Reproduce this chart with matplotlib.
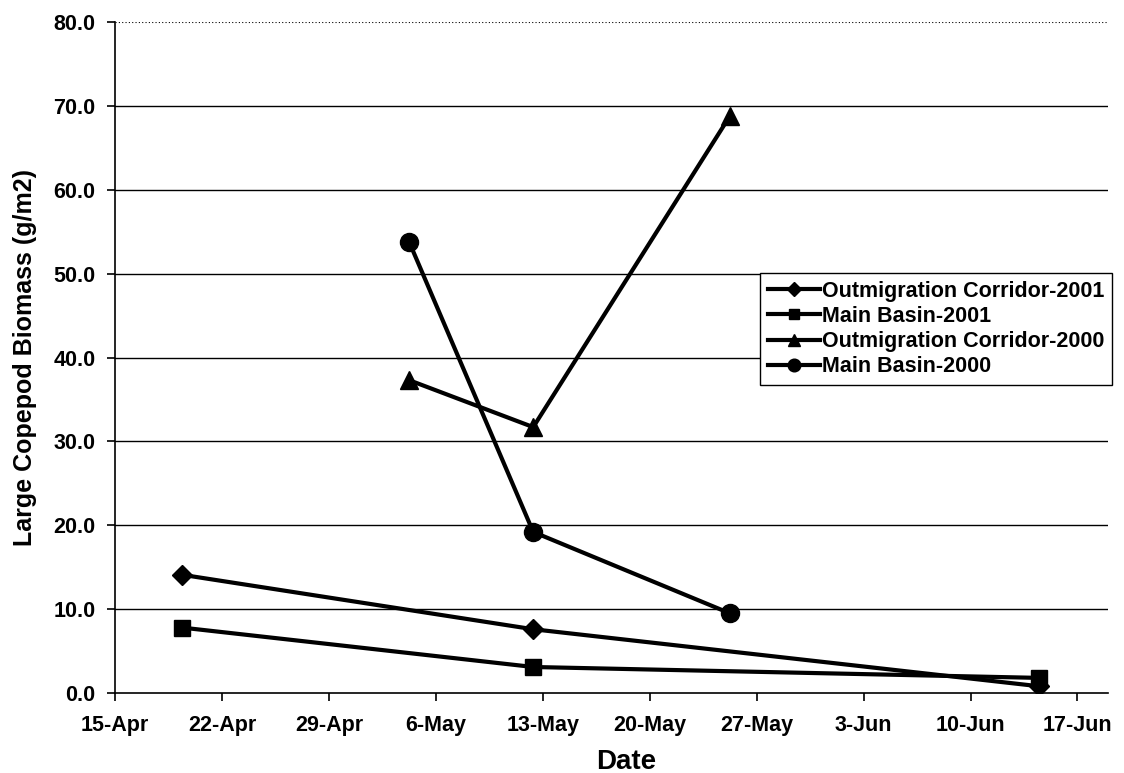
import matplotlib
matplotlib.use("Agg")
import matplotlib.pyplot as plt
import matplotlib.dates as mdates
import numpy as np
import datetime as dt

plt.rcParams['font.family'] = ['Liberation Sans', 'DejaVu Sans']

# ---- data ----
dates_2001 = ["2001-04-19 09", "2001-05-12 09", "2001-06-14 12"]
dates_2000 = ["2001-05-04 06", "2001-05-12 09", "2001-05-25 06"]
corridor_2001 = [14.1, 7.6, 0.8]
basin_2001 = [7.8, 3.1, 1.8]
corridor_2000 = [37.3, 31.7, 68.8]
basin_2000 = [53.8, 19.2, 9.5]
series_labels = ["Outmigration Corridor-2001", "Main Basin-2001",
                 "Outmigration Corridor-2000", "Main Basin-2000"]
yticks = [0, 10, 20, 30, 40, 50, 60, 70, 80]

d01 = [dt.datetime.strptime(d, "%Y-%m-%d %H") for d in dates_2001]
d00 = [dt.datetime.strptime(d, "%Y-%m-%d %H") for d in dates_2000]

fig = plt.figure(figsize=(11.24, 7.73), dpi=100)
ax = fig.add_axes([0.1023, 0.1035, 0.8835, 0.868])

lw = 3
ax.plot(d01, corridor_2001, color='black', lw=lw, marker='D', ms=10, label=series_labels[0], zorder=3)
ax.plot(d01, basin_2001, color='black', lw=lw, marker='s', ms=11, label=series_labels[1], zorder=3)
ax.plot(d00, corridor_2000, color='black', lw=lw, marker='^', ms=13, label=series_labels[2], zorder=3)
ax.plot(d00, basin_2000, color='black', lw=lw, marker='o', ms=13, label=series_labels[3], zorder=3)

ax.set_ylim(0, 80)
ax.set_yticks(yticks)
ax.set_yticklabels([f"{v:.1f}" for v in yticks])
start = dt.datetime(2001, 4, 15)
ax.set_xlim(start, start + dt.timedelta(days=65))
xt = [start + dt.timedelta(days=7 * i) for i in range(10)]
ax.set_xticks(xt)
ax.xaxis.set_major_formatter(mdates.DateFormatter('%-d-%b'))

for v in yticks[1:-1]:
    ax.axhline(v, color='black', lw=1.0, zorder=1)
ax.axhline(80, color='black', lw=0.8, ls=(0, (1, 2)), zorder=1)

for s in ['top', 'right']:
    ax.spines[s].set_visible(False)
ax.spines['left'].set_linewidth(1.2)
ax.spines['bottom'].set_linewidth(1.2)

ax.tick_params(axis='both', direction='out', length=6, width=1.2, labelsize=15.5)
ax.tick_params(axis='x', pad=10)
ax.tick_params(axis='y', pad=8)
for lab in ax.get_xticklabels() + ax.get_yticklabels():
    lab.set_fontweight('bold')

fig.text(626 / 1124, 1 - 762 / 773, "Date", fontsize=20, fontweight='bold', ha='center', va='center')
fig.text(25 / 1124, 1 - 357 / 773, "Large Copepod Biomass (g/m2)", fontsize=18, fontweight='bold',
         ha='center', va='center', rotation=90)

leg = ax.legend(loc='upper left', bbox_to_anchor=(0.650, 0.626), frameon=True, fancybox=False,
                edgecolor='black', framealpha=1, fontsize=15.5, handlelength=2.4,
                handletextpad=0.1, borderpad=0.35, labelspacing=0.2, borderaxespad=0,
                markerscale=0.7)
leg.get_frame().set_linewidth(1.0)
for t in leg.get_texts():
    t.set_fontweight('bold')

fig.savefig("out.png", dpi=100)
